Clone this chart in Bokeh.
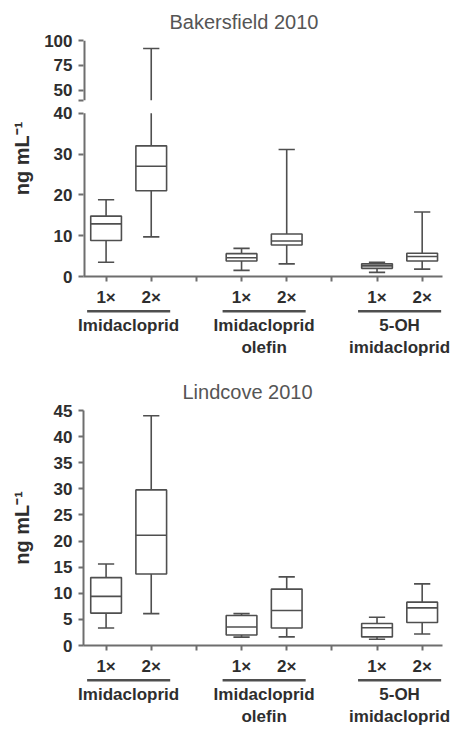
from bokeh.plotting import figure
from bokeh.models import Range1d, FixedTicker, ColumnDataSource
from bokeh.layouts import column
from bokeh.embed import file_html
from bokeh.resources import INLINE

# ---------------- data ----------------
positions = [0, 1, 3, 4, 6, 7]
x_ticks = [0, 1, 2, 3, 4, 5, 6, 7]
x_tick_labels = ["1×", "2×", "", "1×", "2×", "", "1×", "2×"]
groups = ["Imidacloprid", "Imidacloprid\nolefin", "5-OH\nimidacloprid"]
group_centers = [0.5, 3.5, 6.5]
y_label = "ng mL⁻¹"

bk_title = "Bakersfield 2010"
bk_low = [3.5, 9.7, 1.5, 3.1, 1.0, 1.8]
bk_q1 = [8.8, 21.0, 3.8, 7.7, 2.0, 3.8]
bk_med = [12.9, 27.0, 4.6, 8.7, 2.6, 4.9]
bk_q3 = [14.8, 32.0, 5.6, 10.4, 3.1, 5.7]
bk_high = [18.8, 92.0, 6.9, 31.1, 3.5, 15.8]
bk_lower_ticks = [0, 10, 20, 30, 40]
bk_upper_ticks = [50, 75, 100]
bk_break = 40
bk_top = 100

lc_title = "Lindcove 2010"
lc_low = [3.35, 6.1, 1.6, 1.65, 1.2, 2.2]
lc_q1 = [6.2, 13.7, 2.0, 3.35, 1.65, 4.4]
lc_med = [9.4, 21.1, 3.55, 6.7, 3.4, 7.2]
lc_q3 = [13.0, 29.8, 5.75, 10.8, 4.2, 8.3]
lc_high = [15.6, 44.0, 6.1, 13.15, 5.4, 11.8]
lc_ticks = [0, 5, 10, 15, 20, 25, 30, 35, 40, 45]

# ---------------- style / layout ----------------
FONT = "Liberation Sans"
LINE = "#4f4f4f"
AXIS = "#6e6e6e"
TEXT = "#2e2e2e"
TITLE = "#555555"
W = 451
BL, BR = 83, 9
X0, X1 = -0.5, 7.45
BOX_W = 0.68
CAP_W = 0.36
FRAME_H = 237
LOWER_PX, GAP_PX, UPPER_PX = 164, 13, 60


def style_labels(ax, size="17px"):
    ax.major_label_text_font = FONT
    ax.major_label_text_font_size = size
    ax.major_label_text_font_style = "bold"
    ax.major_label_text_color = TEXT


def base_fig(height, x_range, y_range, top, bottom, title, title_offset):
    p = figure(width=W, height=height, x_range=x_range, y_range=y_range,
               output_backend="svg", toolbar_location=None,
               min_border_left=BL, min_border_right=BR,
               min_border_top=top, min_border_bottom=bottom,
               title=title)
    p.grid.visible = False
    p.outline_line_color = None
    p.title.text_font = FONT
    p.title.text_font_size = "20px"
    p.title.text_font_style = "normal"
    p.title.text_color = TITLE
    p.title.align = "left"
    p.title.offset = title_offset
    p.title.standoff = 16
    for ax in (p.xaxis[0], p.yaxis[0]):
        ax.axis_line_color = AXIS
        ax.axis_line_width = 2
        ax.major_tick_line_color = AXIS
        ax.major_tick_line_width = 2
        ax.major_tick_out = 5
        ax.major_tick_in = 0
        ax.minor_tick_line_color = None
        style_labels(ax)
        ax.major_label_standoff = 6
    p.xaxis.ticker = FixedTicker(ticks=x_ticks)
    p.xaxis.major_label_overrides = dict(zip(x_ticks, x_tick_labels))
    p.yaxis.axis_label = y_label
    p.yaxis.axis_label_text_font = FONT
    p.yaxis.axis_label_text_font_size = "20px"
    p.yaxis.axis_label_text_font_style = "bold"
    p.yaxis.axis_label_text_color = TEXT
    return p


def draw_boxes(p, low, q1, med, q3, high, brk=None):
    hi_c = [h if brk is None else min(h, brk) for h in high]
    src = ColumnDataSource(dict(
        x=positions, low=low, q1=q1, med=med, q3=q3, hi=hi_c,
        xl=[x - BOX_W / 2 for x in positions], xr=[x + BOX_W / 2 for x in positions],
        cl=[x - CAP_W / 2 for x in positions], cr=[x + CAP_W / 2 for x in positions],
    ))
    kw = dict(line_color=LINE, line_width=1.6)
    p.segment(x0="x", y0="q3", x1="x", y1="hi", source=src, **kw)
    p.segment(x0="x", y0="low", x1="x", y1="q1", source=src, **kw)
    p.segment(x0="cl", y0="low", x1="cr", y1="low", source=src, **kw)
    p.vbar(x="x", width=BOX_W, bottom="q1", top="q3", source=src,
           fill_color="white", **kw)
    p.segment(x0="xl", y0="med", x1="xr", y1="med", source=src, **kw)
    idx = [i for i, h in enumerate(high) if brk is None or h <= brk]
    p.segment(x0=[src.data["cl"][i] for i in idx], y0=[high[i] for i in idx],
              x1=[src.data["cr"][i] for i in idx], y1=[high[i] for i in idx], **kw)
    if brk is not None:
        up = [i for i, h in enumerate(high) if h > brk]
        if up:
            p.segment(x0=[positions[i] for i in up], y0=[brk] * len(up),
                      x1=[positions[i] for i in up], y1=[high[i] for i in up],
                      y_range_name="upper", **kw)
            p.segment(x0=[src.data["cl"][i] for i in up], y0=[high[i] for i in up],
                      x1=[src.data["cr"][i] for i in up], y1=[high[i] for i in up],
                      y_range_name="upper", **kw)


def label_fig(height, frame_h, standoff):
    # thin frame holding the group underlines, group names on an axis below it
    q = figure(width=W, height=height, x_range=Range1d(X0, X1),
               y_range=Range1d(frame_h, 0),
               output_backend="svg", toolbar_location=None,
               y_axis_location=None,
               min_border_left=BL, min_border_right=BR,
               min_border_top=0, min_border_bottom=height - frame_h)
    q.grid.visible = False
    q.outline_line_color = None
    q.segment(x0=[c - 0.92 for c in group_centers], y0=[2.5] * 3,
              x1=[c + 0.92 for c in group_centers], y1=[2.5] * 3,
              line_color=LINE, line_width=2.5)
    ax = q.xaxis[0]
    ax.ticker = FixedTicker(ticks=group_centers)
    ax.major_label_overrides = dict(zip(group_centers, groups))
    ax.axis_line_color = None
    ax.major_tick_line_color = None
    ax.minor_tick_line_color = None
    ax.major_tick_out = 0
    ax.major_tick_in = 0
    ax.major_label_standoff = standoff
    ax.major_label_text_line_height = 1.2
    style_labels(ax)
    return q


# ---------------- top panel (broken axis) ----------------
main_top = bk_break * FRAME_H / LOWER_PX
up_bottom = bk_top - (bk_top - bk_break) * FRAME_H / UPPER_PX
p1 = base_fig(309, Range1d(X0, X1), Range1d(0, main_top), 40, 32, bk_title, 86)
p1.extra_y_ranges = {"upper": Range1d(up_bottom, bk_top)}


def to_main(v):
    return main_top * (v - up_bottom) / (bk_top - up_bottom)


up_pos = [to_main(v) for v in bk_upper_ticks]
brk_pos = to_main(bk_break)
p1.yaxis.ticker = FixedTicker(ticks=bk_lower_ticks + [brk_pos] + up_pos)
ov = {brk_pos: ""}
ov.update({pos: str(v) for pos, v in zip(up_pos, bk_upper_ticks)})
p1.yaxis.major_label_overrides = ov
p1.yaxis.axis_line_color = None
p1.yaxis.axis_label_standoff = 8
p1.segment(x0=[X0], y0=[0], x1=[X0], y1=[bk_break], line_color=AXIS, line_width=4)
p1.segment(x0=[X0], y0=[bk_break], x1=[X0], y1=[bk_top], line_color=AXIS,
           line_width=4, y_range_name="upper")
draw_boxes(p1, bk_low, bk_q1, bk_med, bk_q3, bk_high, brk=bk_break)

l1 = label_fig(51, 6, 2)

# ---------------- bottom panel ----------------
p2 = base_fig(318, Range1d(X0, X1), Range1d(lc_ticks[0], lc_ticks[-1]), 50, 31, lc_title, 99)
p2.yaxis.ticker = FixedTicker(ticks=lc_ticks)
p2.yaxis.axis_label_standoff = 18
draw_boxes(p2, lc_low, lc_q1, lc_med, lc_q3, lc_high)

l2 = label_fig(51, 6, 2)

layout = column(p1, l1, p2, l2, spacing=0)
open("out.html", "w").write(file_html(layout, INLINE))
